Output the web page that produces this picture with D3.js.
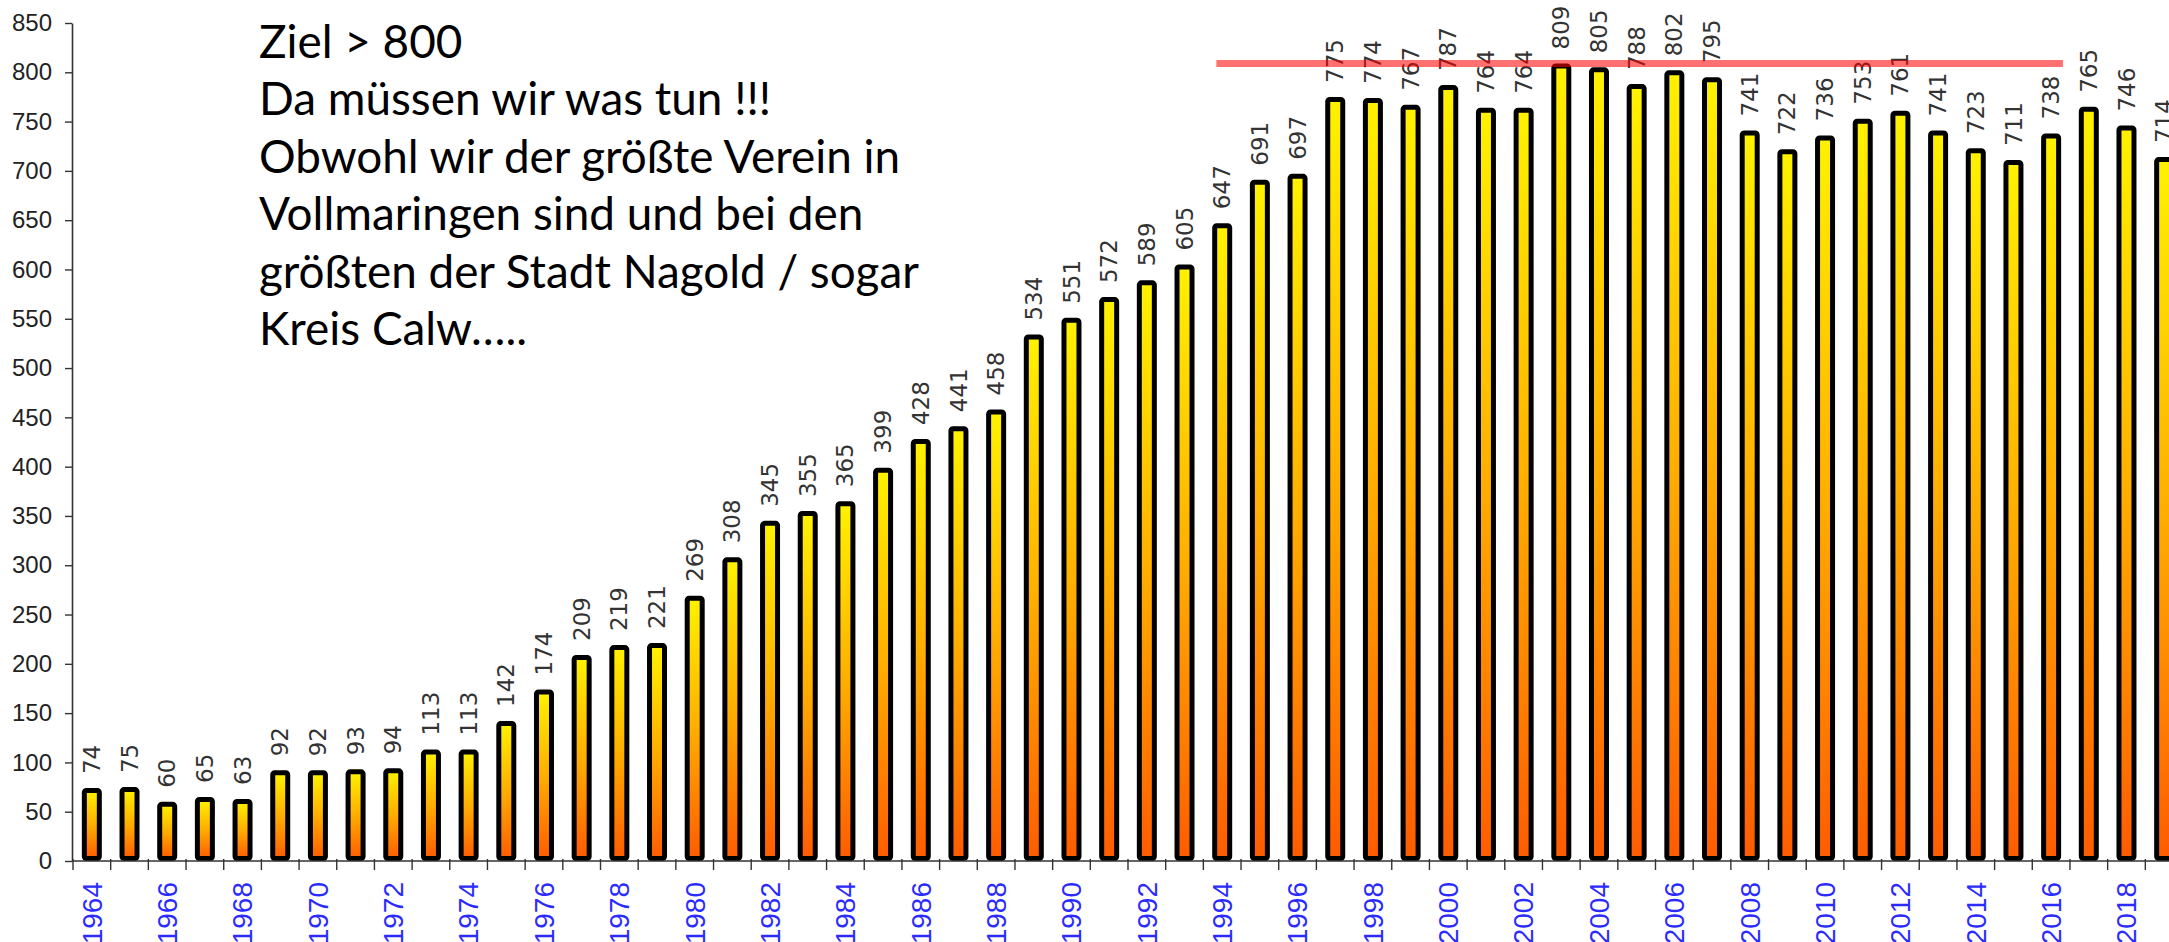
<!DOCTYPE html>
<html><head><meta charset="utf-8">
<script src="https://cdn.jsdelivr.net/npm/d3@7"></script>
<style>html,body{margin:0;padding:0;background:#fff;overflow:hidden}</style>
</head><body>
<svg id="chart" width="2169" height="942"></svg>
<script>
const years = [1964,1965,1966,1967,1968,1969,1970,1971,1972,1973,1974,1975,1976,1977,1978,1979,1980,1981,1982,1983,1984,1985,1986,1987,1988,1989,1990,1991,1992,1993,1994,1995,1996,1997,1998,1999,2000,2001,2002,2003,2004,2005,2006,2007,2008,2009,2010,2011,2012,2013,2014,2015,2016,2017,2018,2019];
const members = [74,75,60,65,63,92,92,93,94,113,113,142,174,209,219,221,269,308,345,355,365,399,428,441,458,534,551,572,589,605,647,691,697,775,774,767,787,764,764,809,805,788,802,795,741,722,736,753,761,741,723,711,738,765,746,714];
const yTickValues = [0,50,100,150,200,250,300,350,400,450,500,550,600,650,700,750,800,850];
const xTickLabels = [1964,1966,1968,1970,1972,1974,1976,1978,1980,1982,1984,1986,1988,1990,1992,1994,1996,1998,2000,2002,2004,2006,2008,2010,2012,2014,2016,2018];
const goalValue = 809;
const goalYears = [1994, 2016];
const noteLines = ["Ziel > 800","Da müssen wir was tun !!!","Obwohl wir der größte Verein in","Vollmaringen sind und bei den","größten der Stadt Nagold / sogar","Kreis Calw….."];

const svg = d3.select("#chart");
const x = d3.scaleBand().domain(years).range([73, 2183]).padding(0);
const y = d3.scaleLinear().domain([0, 850]).range([861, 23]);
const bw = x.bandwidth();

// gradient
const defs = svg.append("defs");
const grad = defs.append("linearGradient").attr("id","barGrad").attr("x1",0).attr("y1",0).attr("x2",0).attr("y2",1);
grad.append("stop").attr("offset","0").attr("stop-color","#fff200");
grad.append("stop").attr("offset","0.5").attr("stop-color","#ffae00");
grad.append("stop").attr("offset","1").attr("stop-color","#ff5c00");

// y axis
const yAxis = svg.append("g").attr("transform","translate(72,0)")
  .call(d3.axisLeft(y).tickValues(yTickValues).tickSize(7).tickPadding(13).tickSizeOuter(0));
yAxis.select(".domain").attr("stroke","#333").attr("stroke-width",1.6);
yAxis.selectAll(".tick line").attr("stroke","#333").attr("stroke-width",1.4);
yAxis.selectAll(".tick text").attr("font-family","'Liberation Sans', Arial, sans-serif").attr("font-size",24).attr("fill","#222");

// bars
const stroke = 5;
svg.append("g").selectAll("rect").data(members).join("rect")
  .attr("x",(d,i)=>x(years[i]) + bw/2 - 10 + stroke/2)
  .attr("y",d=>y(d) + stroke/2)
  .attr("width",20 - stroke)
  .attr("height",d=>y(0) - y(d) - stroke)
  .attr("rx",2)
  .attr("fill","url(#barGrad)")
  .attr("stroke","#000")
  .attr("stroke-width",stroke);

// x axis line and ticks
const xg = svg.append("g");
xg.append("line").attr("x1",72).attr("x2",2169).attr("y1",y(0)).attr("y2",y(0)).attr("stroke","#333").attr("stroke-width",1.6);
xg.selectAll("line.tk").data(years).join("line").attr("class","tk")
  .attr("x1",d=>x(d)).attr("x2",d=>x(d)).attr("y1",y(0)-2).attr("y2",y(0)+9)
  .attr("stroke","#333").attr("stroke-width",1.4);
xg.selectAll("text").data(xTickLabels).join("text")
  .attr("transform",d=>`translate(${x(d)+bw/2},882) rotate(-90)`)
  .attr("text-anchor","end").attr("dy","0.35em")
  .attr("font-family","'Liberation Sans', Arial, sans-serif").attr("font-size",28)
  .attr("fill","#2b2bff").text(d=>d);

// value labels
svg.append("g").selectAll("text").data(members).join("text")
  .attr("transform",(d,i)=>`translate(${x(years[i])+bw/2},${y(d)-14}) rotate(-90)`)
  .attr("text-anchor","start").attr("dy","0.35em")
  .attr("font-family","'DejaVu Sans', Verdana, sans-serif").attr("font-size",23)
  .attr("fill","#333").text(d=>d);

// goal line
svg.append("line")
  .attr("x1",x(goalYears[0])+13).attr("x2",x(goalYears[1])+bw-7)
  .attr("y1",y(goalValue)).attr("y2",y(goalValue))
  .attr("stroke","#ff0000").attr("stroke-opacity",0.56).attr("stroke-width",7);

// note text
const note = svg.append("g").attr("font-family","Lato, 'Open Sans', sans-serif").attr("fill","#000");
const probe = note.append("text").attr("font-size",100).text(noteLines[4]);
const w100 = probe.node().getComputedTextLength();
probe.remove();
const fs = 100 * 660 / w100;
note.selectAll("text").data(noteLines).join("text")
  .attr("x",259).attr("y",(d,i)=>58 + i*57.4)
  .attr("font-size",fs).text(d=>d);
</script>
</body></html>
